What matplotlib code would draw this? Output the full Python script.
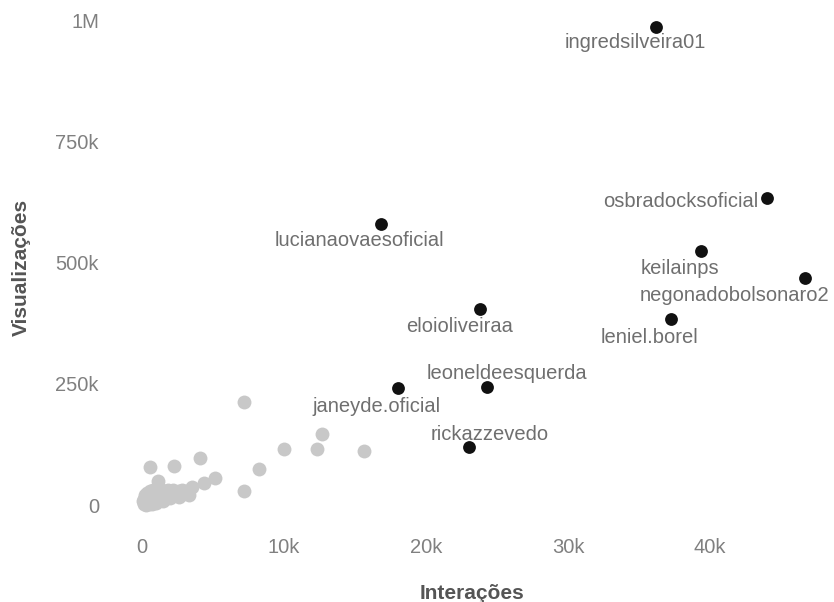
import matplotlib
matplotlib.use("Agg")
from matplotlib import pyplot as plt

# Data (thousands): labelled accounts
names = ["ingredsilveira01", "osbradocksoficial", "keilainps", "negonadobolsonaro2",
         "leniel.borel", "lucianaovaesoficial", "eloioliveiraa", "leoneldeesquerda",
         "janeyde.oficial", "rickazzevedo"]
top_x = [36.2, 44.0, 39.4, 46.7, 37.25, 16.8, 23.8, 24.3, 18.0, 23.0]
top_y = [987, 634, 524, 469, 384, 581, 405, 244, 241, 120]

# the rest of the accounts (grey)
other_x = [7.2, 12.7, 10.0, 12.3, 15.65, 4.1, 2.25, 0.6, 8.25, 7.2, 5.15, 4.35, 3.55, 2.6, 1.15,
           0.1, 0.15, 0.2, 0.25, 0.3, 0.4, 0.45, 0.5, 0.6, 0.7, 0.8, 0.9, 1.0, 1.1, 1.2,
           1.3, 1.4, 1.6, 1.7, 1.8, 2.0, 2.2, 2.4, 2.6, 2.9, 3.1, 3.3, 0.35, 0.55, 0.2,
           0.15, 0.5, 1.0, 1.5, 2.0, 0.8, 1.4, 0.3, 0.7, 2.8]
other_y = [213, 146, 116, 116, 112, 98, 81, 78, 74, 29, 55, 46, 38, 17, 50,
           8, 12, 6, 16, 10, 14, 20, 8, 12, 18, 24, 10, 15, 22, 28,
           12, 18, 26, 14, 30, 22, 31, 25, 29, 22, 28, 20, 24, 28, 20,
           3, 3, 5, 8, 14, 30, 32, 0, 2, 31]

x_ticks = [0, 10, 20, 30, 40]
x_tick_labels = ["0", "10k", "20k", "30k", "40k"]
y_ticks = [0, 250, 500, 750, 1000]
y_tick_labels = ["0", "250k", "500k", "750k", "1M"]

# label offsets in pixels relative to each dot
label_offsets = {
	"ingredsilveira01": (-21, -16),
	"osbradocksoficial": (-86, -4),
	"keilainps": (-22, -17),
	"negonadobolsonaro2": (-71, -18),
	"leniel.borel": (-21, -18),
	"lucianaovaesoficial": (-21, -17),
	"eloioliveiraa": (-20, -18),
	"leoneldeesquerda": (20, 13),
	"janeyde.oficial": (-21, -18),
	"rickazzevedo": (21, 12),
}

plt.rcParams['font.family'] = ['Liberation Sans', 'DejaVu Sans']

fig = plt.figure(figsize=(8.34, 6.02), dpi=100)
ax = fig.add_axes([110 / 834, 72 / 602, 715 / 834, 520 / 602])

ax.scatter(other_x, other_y, s=100, color="#c8c8c8", linewidths=0, zorder=2)
ax.scatter(top_x, top_y, s=85, color="#111111", linewidths=0, zorder=3)

for name, x, y in zip(names, top_x, top_y):
	dx, dy = label_offsets[name]
	ax.annotate(name, (x, y), xytext=(dx, dy), textcoords="offset pixels",
	            ha="center", va="center", fontsize=14.5, color="#6f6f6f", zorder=4)

ax.set_xlim(-2.25, 48.1)
ax.set_ylim(-51.6, 1022)
ax.set_xticks(x_ticks)
ax.set_xticklabels(x_tick_labels)
ax.set_yticks(y_ticks)
ax.set_yticklabels(y_tick_labels)
ax.tick_params(length=0, labelsize=14.5, labelcolor="#808080")
ax.tick_params(axis="y", pad=8)
ax.tick_params(axis="x", pad=6)

for spine in ax.spines.values():
	spine.set_visible(False)

ax.set_xlabel("Interações", fontsize=15, fontweight="bold", color="#555555")
ax.set_ylabel("Visualizações", fontsize=15, fontweight="bold", color="#555555")
ax.xaxis.set_label_coords(0.506, -0.122)
ax.xaxis.label.set_va("center")
ax.yaxis.set_label_coords(-0.124, 0.504)
ax.yaxis.label.set_va("center")

fig.savefig("out.png", dpi=100)
